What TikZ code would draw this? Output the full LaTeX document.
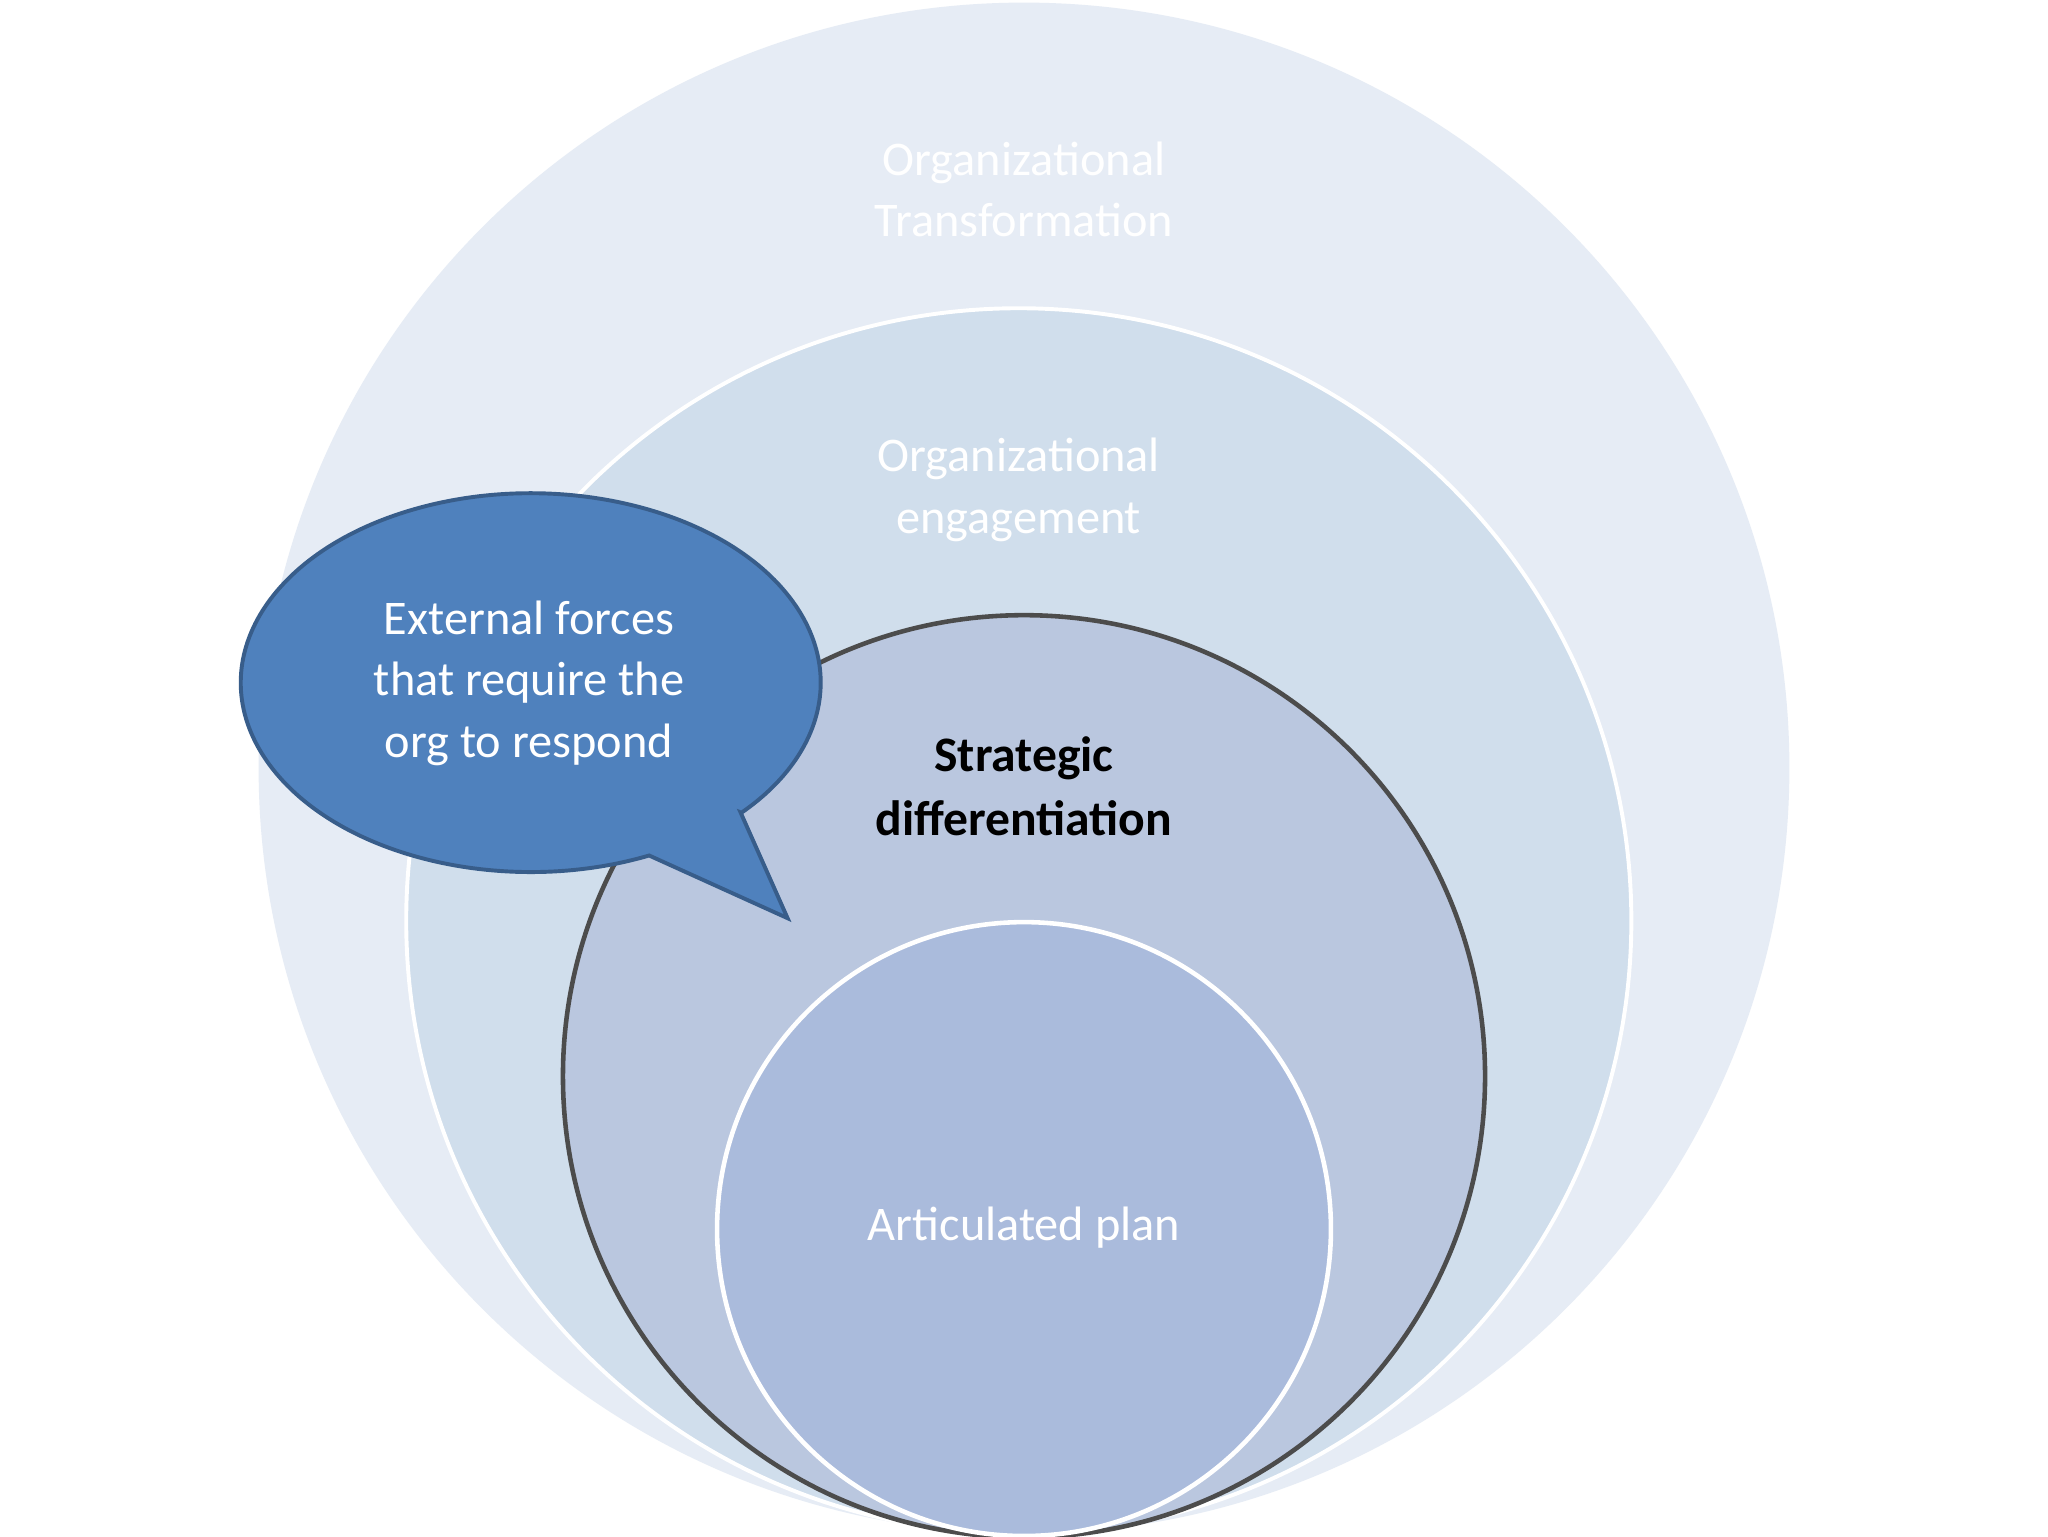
\documentclass[tikz,border=0pt]{standalone}
\usepackage{fontspec}
\setmainfont{Carlito}
\definecolor{c1}{HTML}{E6ECF5}
\definecolor{c2}{HTML}{D0DEEC}
\definecolor{c3}{HTML}{BAC7DF}
\definecolor{c4}{HTML}{AABBDC}
\definecolor{cb}{HTML}{4F81BD}
\definecolor{cbd}{HTML}{385D8A}
\begin{document}
\begin{tikzpicture}[x=1pt,y=1pt,
  lbl/.style={align=center,font=\fontsize{37}{47}\selectfont,text=white}]
\useasboundingbox (0,0) rectangle (1568,1176);
\fill[white] (0,0) rectangle (1568,1176);
\fill[c1] (784,588) circle (586);
\filldraw[fill=c2,draw=white,line width=3] (780,471) circle (469);
\filldraw[fill=c3,draw=black!70,line width=3.5] (784,352) circle (353);
\filldraw[fill=c4,draw=white,line width=3.5] (784,235) circle (235);
\filldraw[fill=cb,draw=cbd,line width=3] (567,554) -- (603,473) -- (497,521)
  arc[start angle=-65.9,end angle=-403.4,x radius=222,y radius=145] -- cycle;
\node[lbl] (t1) at (784,1031) {Organizational\\Transformation};
\node[lbl] (t2) at (780,801) {Organizational\\engagement};
\node[lbl,text=black,font=\fontsize{38}{49}\selectfont\bfseries] (t3) at (784,574) {Strategic\\differentiation};
\node[lbl] (t4) at (784,236) {Articulated plan};
\node[lbl] (t5) at (405,653) {External forces\\that require the\\org to respond};
\end{tikzpicture}
\end{document}
